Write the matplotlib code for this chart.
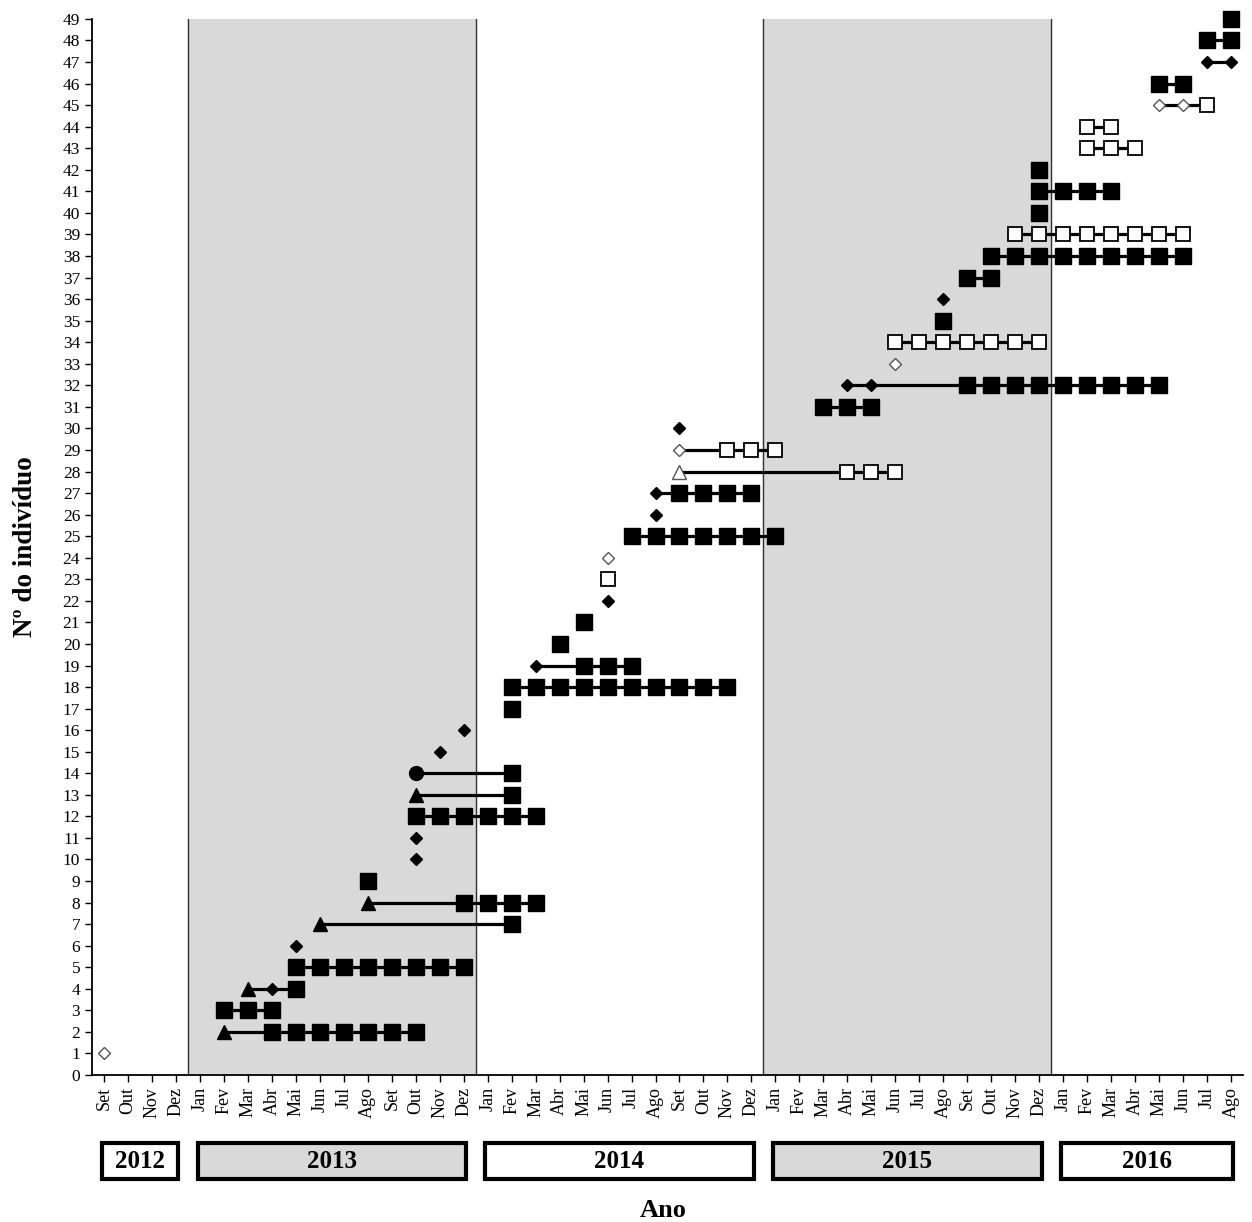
import matplotlib
matplotlib.use('Agg')
import matplotlib.pyplot as plt
from matplotlib.patches import Rectangle
from matplotlib.transforms import blended_transform_factory

# Meses amostrados (Set/2012 a Ago/2016)
meses_ano = ['Jan', 'Fev', 'Mar', 'Abr', 'Mai', 'Jun',
             'Jul', 'Ago', 'Set', 'Out', 'Nov', 'Dez']
meses = meses_ano[8:] + meses_ano * 3 + meses_ano[:8]

anos = ['2012', '2013', '2014', '2015', '2016']
ano_inicio = [0, 4, 16, 28, 40]
ano_fim = [3, 15, 27, 39, 47]
ano_sombreado = [False, True, False, True, False]

# Registros por individuo: {individuo: [indices dos meses]}
quadrado_cheio = {
    2: [7, 8, 9, 10, 11, 12, 13], 3: [5, 6, 7], 4: [8],
    5: [8, 9, 10, 11, 12, 13, 14, 15], 7: [17], 8: [15, 16, 17, 18],
    9: [11], 12: [13, 14, 15, 16, 17, 18], 13: [17], 14: [17], 17: [17],
    18: [17, 18, 19, 20, 21, 22, 23, 24, 25, 26], 19: [20, 21, 22],
    20: [19], 21: [20], 25: [22, 23, 24, 25, 26, 27, 28],
    27: [24, 25, 26, 27], 31: [30, 31, 32],
    32: [36, 37, 38, 39, 40, 41, 42, 43, 44], 35: [35], 37: [36, 37],
    38: [37, 38, 39, 40, 41, 42, 43, 44, 45], 40: [39],
    41: [39, 40, 41, 42], 42: [39], 46: [44, 45], 48: [46, 47], 49: [47],
}
quadrado_aberto = {
    23: [21], 28: [31, 32, 33], 29: [26, 27, 28],
    34: [33, 34, 35, 36, 37, 38, 39], 39: [38, 39, 40, 41, 42, 43, 44, 45],
    43: [41, 42, 43], 44: [41, 42], 45: [46],
}
losango_cheio = {
    4: [7], 6: [8], 10: [13], 11: [13], 15: [14], 16: [15], 19: [18],
    22: [21], 26: [23], 27: [23], 30: [24], 32: [31, 32], 36: [35],
    47: [46, 47],
}
losango_aberto = {1: [0], 24: [21], 29: [24], 33: [33], 45: [44, 45]}
triangulo_cheio = {2: [5], 4: [6], 7: [9], 8: [11], 13: [13]}
triangulo_aberto = {28: [24]}
circulo_cheio = {14: [13]}

estilos = [
    (quadrado_cheio, dict(marker='s', ms=11.5, mfc='black', mec='black')),
    (quadrado_aberto, dict(marker='s', ms=10.5, mfc='white', mec='black', mew=1.3)),
    (losango_cheio, dict(marker='D', ms=6.5, mfc='black', mec='black')),
    (losango_aberto, dict(marker='D', ms=6.5, mfc='white', mec='#555555', mew=1.0)),
    (triangulo_cheio, dict(marker='^', ms=10, mfc='black', mec='black')),
    (triangulo_aberto, dict(marker='^', ms=10, mfc='white', mec='#555555', mew=1.0)),
    (circulo_cheio, dict(marker='o', ms=10, mfc='black', mec='black')),
]

plt.rcParams['font.family'] = ['Liberation Serif', 'DejaVu Serif']

fig = plt.figure(figsize=(12.52, 12.22), dpi=100)
ax = fig.add_axes([0.0735, 0.1203, 0.9193, 0.8642])

# Faixas dos anos sombreados
for ini, fim, somb in zip(ano_inicio, ano_fim, ano_sombreado):
    if somb:
        ax.axvspan(ini - 0.5, fim + 0.5, color='#d9d9d9', zorder=0)
        ax.axvline(ini - 0.5, color='#333333', lw=1.0, zorder=1)
        ax.axvline(fim + 0.5, color='#333333', lw=1.0, zorder=1)

# Linhas de permanencia: do primeiro ao ultimo registro de cada individuo
todos = {}
for dados, _ in estilos:
    for ind, ms in dados.items():
        todos.setdefault(ind, []).extend(ms)
for ind, ms in todos.items():
    if len(ms) > 1:
        ax.plot([min(ms), max(ms)], [ind, ind], color='black', lw=2.3,
                solid_capstyle='butt', zorder=2)

for dados, kw in estilos:
    for ind, ms in dados.items():
        ax.plot(ms, [ind] * len(ms), ls='none', zorder=3, clip_on=False, **kw)

ax.set_xlim(-0.5, 47.5)
ax.set_ylim(0, 49)
ax.set_yticks(range(0, 50))
ax.set_xticks(range(len(meses)))
ax.set_xticklabels(meses, rotation=90, fontsize=13)
ax.tick_params(axis='y', labelsize=12.5, length=5, width=1, direction='out')
ax.tick_params(axis='x', length=5, width=1, direction='out')
for s in ['top', 'right']:
    ax.spines[s].set_visible(False)
for s in ['left', 'bottom']:
    ax.spines[s].set_linewidth(1.3)

ax.set_ylabel('Nº do indivíduo', fontsize=19.5, fontweight='bold', labelpad=18)

# Caixas dos anos abaixo do eixo
trans = blended_transform_factory(ax.transData, ax.transAxes)
for nome, ini, fim, somb in zip(anos, ano_inicio, ano_fim, ano_sombreado):
    r = Rectangle((ini - 0.1, -0.0985), fim - ini + 0.2, 0.034,
                  transform=trans, clip_on=False, lw=3,
                  facecolor='#d9d9d9' if somb else 'white', edgecolor='black')
    ax.add_patch(r)
    ax.text((ini + fim) / 2, -0.0815, nome, transform=trans, ha='center',
            va='center', fontsize=18, fontweight='bold')

ax.text(23.3, -0.128, 'Ano', transform=trans, ha='center', va='center',
        fontsize=19, fontweight='bold')

fig.savefig('out.png', dpi=100)
